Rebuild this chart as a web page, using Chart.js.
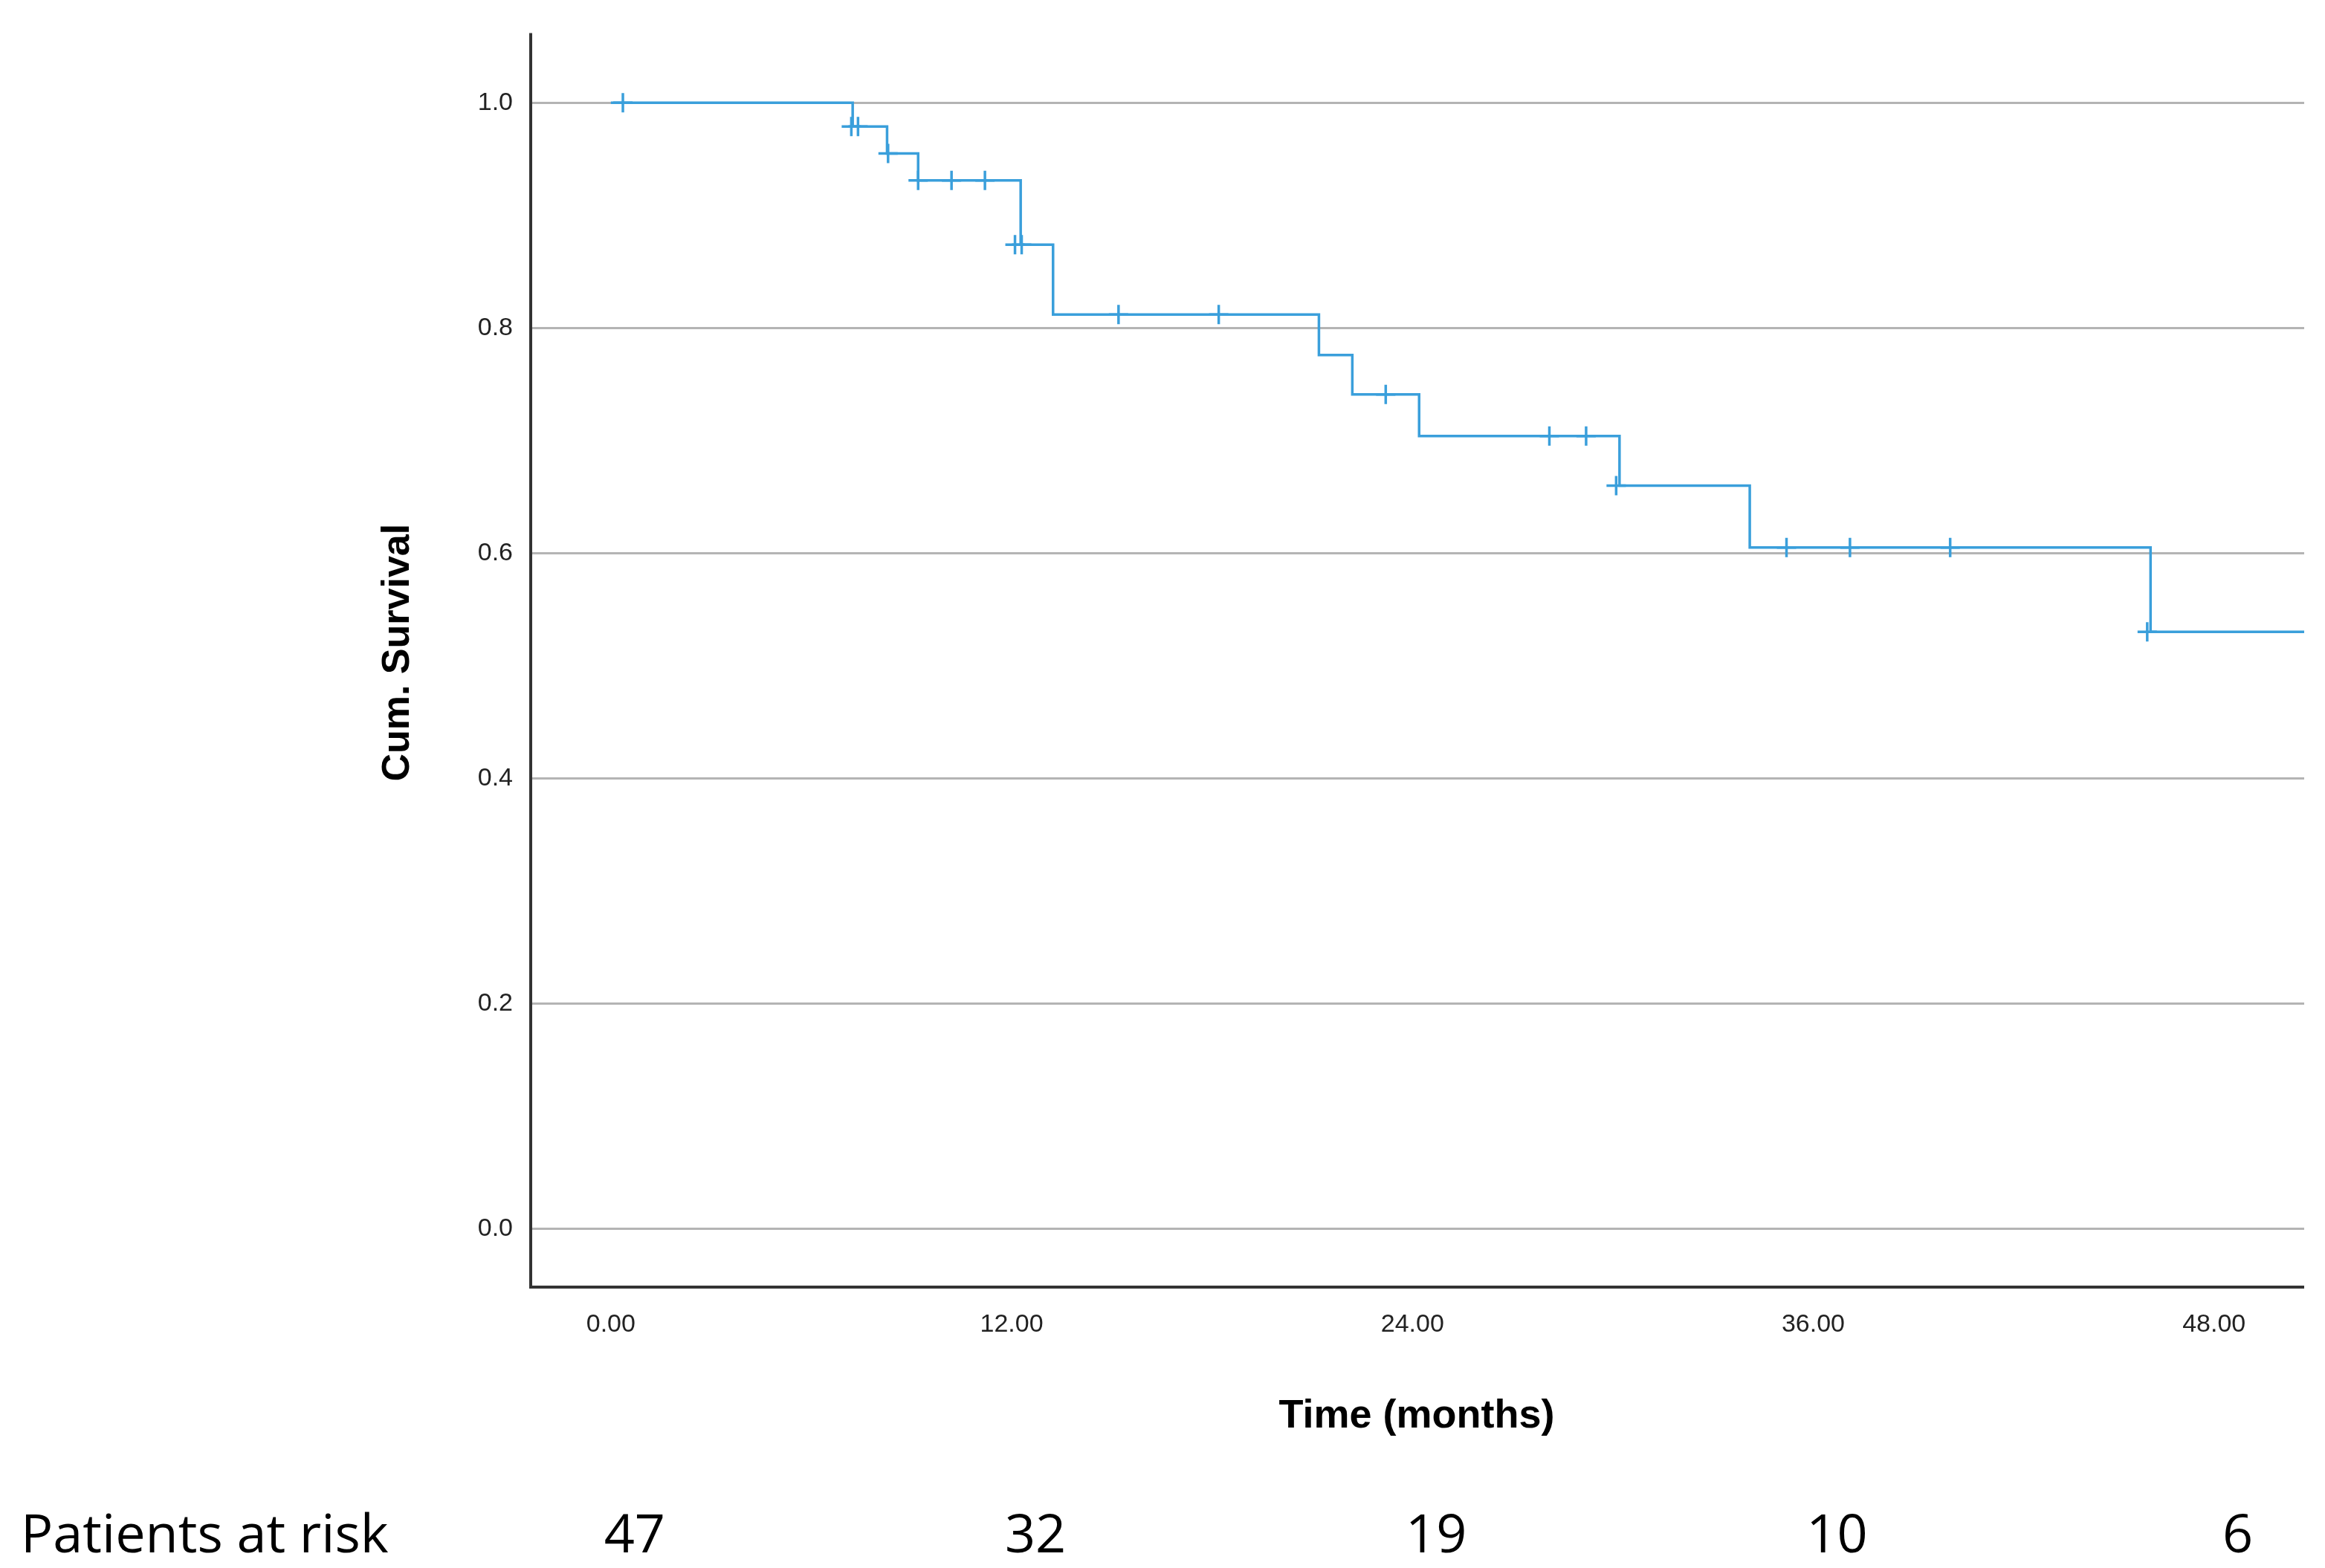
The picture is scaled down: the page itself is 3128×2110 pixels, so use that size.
<!DOCTYPE html>
<html><head><meta charset="utf-8">
<script src="https://cdn.jsdelivr.net/npm/chart.js@4.4.1/dist/chart.umd.min.js"></script>
<style>html,body{margin:0;padding:0;background:#fff}canvas{display:block}</style>
</head><body>
<canvas id="km" width="3128" height="2110"></canvas>
<script>
// survival curve steps (months, cum. survival)
const stepTimes = [0, 7.24, 8.27, 9.2, 12.27, 13.24, 21.2, 22.2, 24.2, 30.2, 34.1, 46.1, 50.7];
const stepSurv  = [1.0, 0.979, 0.955, 0.931, 0.874, 0.812, 0.776, 0.741, 0.704, 0.660, 0.605, 0.530, 0.530];
// censored observations
const censTimes = [0.36, 7.2, 7.4, 8.3, 9.2, 10.2, 11.2, 12.1, 12.3, 15.2, 18.2, 23.2, 28.1, 29.2, 30.1, 35.2, 37.1, 40.1, 46.0];
const censSurv  = [1.0, 0.979, 0.979, 0.955, 0.931, 0.931, 0.931, 0.874, 0.874, 0.812, 0.812, 0.741, 0.704, 0.704, 0.660, 0.605, 0.605, 0.605, 0.530];
const xTicks = [0, 12, 24, 36, 48];
const yTicks = [0, 0.2, 0.4, 0.6, 0.8, 1.0];
const riskTimes = [0, 12, 24, 36, 48];
const riskCounts = [47, 32, 19, 10, 6];

const blue = '#3a9fdb';
const L = 714, B = 1732, T = 30, R = 3100;

const extras = {
  id: 'extras',
  afterDraw(c){
    const ctx = c.ctx, xs = c.scales.x, a = c.chartArea;
    ctx.save();
    // axis lines
    ctx.strokeStyle = '#333'; ctx.lineWidth = 4;
    ctx.beginPath(); ctx.moveTo(a.left, a.top); ctx.lineTo(a.left, a.bottom); ctx.lineTo(a.right, a.bottom); ctx.stroke();
    ctx.fillStyle = '#000';
    // y title
    ctx.font = 'bold 52px "Liberation Sans", Arial, sans-serif';
    ctx.textAlign = 'center'; ctx.textBaseline = 'middle';
    ctx.translate(536, (a.top + a.bottom)/2 - 10); ctx.rotate(-Math.PI/2);
    ctx.fillText('Cum. Survival', 0, 0);
    ctx.setTransform(1,0,0,1,0,0);
    // x title
    ctx.font = 'bold 54px "Liberation Sans", Arial, sans-serif';
    ctx.fillText('Time (months)', 1906, 1906);
    // patients at risk
    ctx.font = '72px "Open Sans", "Noto Sans", sans-serif';
    ctx.textAlign = 'left';
    ctx.fillText('Patients at risk', 28, 2068);
    ctx.textAlign = 'center';
    riskTimes.forEach((t,i)=> ctx.fillText(String(riskCounts[i]), xs.getPixelForValue(t) + 32, 2068));
    ctx.restore();
  }
};

new Chart(document.getElementById('km'), {
  type: 'line',
  data: { datasets: [
    { data: stepTimes.map((t,i)=>({x:t, y:stepSurv[i]})), stepped: 'before', borderColor: blue, borderWidth: 3.5, pointRadius: 0, fill: false },
    { type: 'scatter', data: censTimes.map((t,i)=>({x:t, y:censSurv[i]})), pointStyle: 'cross', pointRadius: 13, borderColor: blue, borderWidth: 3.5, backgroundColor: blue }
  ]},
  options: {
    responsive: false, animation: false, devicePixelRatio: 1,
    layout: { padding: { left: 0, right: 3128 - R, top: 16, bottom: 0 } },
    plugins: { legend: { display: false }, tooltip: { enabled: false } },
    scales: {
      x: {
        type: 'linear', min: -2.4, max: 50.7,
        afterBuildTicks: s => { s.ticks = xTicks.map(v=>({value:v})); },
        afterFit: s => { s.height = 2110 - B; },
        grid: { display: false, drawTicks: false }, border: { display: false },
        ticks: { padding: 30, color: '#222', font: { family: '"Liberation Sans", Arial', size: 34 }, callback: v => v.toFixed(2), maxRotation: 0 }
      },
      y: {
        min: -0.052, max: 1.062,
        afterBuildTicks: s => { s.ticks = yTicks.map(v=>({value:v})); },
        afterFit: s => { s.width = L; },
        grid: { color: '#b4b4b4', lineWidth: 3, drawTicks: false }, border: { display: false },
        ticks: { padding: 24, color: '#222', font: { family: '"Liberation Sans", Arial', size: 34 }, callback: v => v.toFixed(1) }
      }
    }
  },
  plugins: [extras]
});
</script>
</body></html>
